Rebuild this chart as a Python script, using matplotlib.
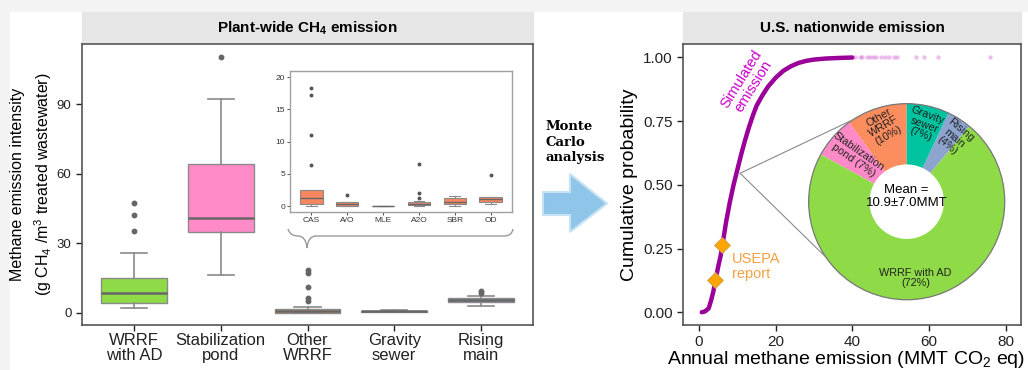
import numpy as np
import matplotlib
matplotlib.use('Agg')
import matplotlib.pyplot as plt
from matplotlib.patches import Rectangle, Polygon, PathPatch, ConnectionPatch, Circle
from matplotlib.path import Path

plt.rcParams['font.family'] = ['Liberation Sans', 'DejaVu Sans']
plt.rcParams['mathtext.fontset'] = 'custom'
plt.rcParams['mathtext.rm'] = 'Liberation Sans'
plt.rcParams['mathtext.it'] = 'Liberation Sans:italic'
plt.rcParams['mathtext.bf'] = 'Liberation Sans:bold'

W, H = 1028, 370

# ---- data: plant-wide boxplots (g CH4 / m3)
categories = ['WRRF\nwith AD', 'Stabilization\npond', 'Other\nWRRF', 'Gravity\nsewer', 'Rising\nmain']
box_colors = ['#8edb47', '#ff8ac8', '#f8875f', '#00c4a0', '#8da4cf']
whislo = [2.2, 16.3, 0.0, 0.5, 3.0]
q1 = [4.1, 34.8, 0.1, 0.6, 4.9]
med = [8.8, 41.0, 1.0, 0.8, 5.6]
q3 = [15.3, 64.4, 1.7, 1.0, 6.3]
whishi = [25.8, 92.4, 2.7, 1.1, 7.5]
fliers = [[35.4, 42.3, 47.6], [110.4], [5.2, 6.6, 11.3, 17.2, 18.4], [], [8.8, 9.5]]

# ---- data: inset (other WRRF by process)
inset_cats = ['CAS', 'A/O', 'MLE', 'A2O', 'SBR', 'OD']
in_whislo = [0.0, 0.0, 0.0, 0.0, 0.05, 0.36]
in_q1 = [0.36, 0.05, 0.0, 0.2, 0.31, 0.62]
in_med = [1.24, 0.26, 0.02, 0.36, 0.67, 1.14]
in_q3 = [2.43, 0.57, 0.04, 0.62, 1.24, 1.4]
in_whishi = [2.45, 0.6, 0.05, 0.78, 1.6, 1.45]
in_fliers = [[6.4, 11.1, 17.3, 18.35], [1.7], [], [1.3, 2.07, 6.56], [], [4.8]]

# ---- data: nationwide cumulative distribution (MMT CO2 eq)
cdf_x = [0.7, 1.5, 2.5, 3.2, 3.7, 4.3, 5.0, 5.6, 6.1, 7.0, 8.0, 9.0, 10.0, 11.0, 12.0,
         13.0, 14.0, 15.0, 16.5, 18.0, 20.0, 22.0, 24.0, 26.0, 28.0, 30.0, 33.0, 36.0, 40.0]
cdf_p = [0.0, 0.003, 0.015, 0.05, 0.08, 0.127, 0.18, 0.22, 0.264, 0.35, 0.43, 0.50, 0.56, 0.62,
         0.675, 0.725, 0.77, 0.81, 0.85, 0.885, 0.92, 0.947, 0.965, 0.978, 0.986, 0.991, 0.995,
         0.997, 0.999]
tail_x = [40.8, 41.9, 42.6, 43.8, 44.5, 45.3, 46.2, 47.4, 48.5, 49.6, 50.8, 51.7,
          56.6, 58.6, 62.3, 75.9]
tail_p = [1.0] * len(tail_x)
usepa_x = [4.2, 6.1]
usepa_p = [0.127, 0.264]

# ---- data: source shares (%)
pie_labels = ['Other\nWRRF\n(10%)', 'Stabilization\npond (7%)', 'WRRF with AD\n(72%)',
              'Rising\nmain\n(4%)', 'Gravity\nsewer\n(7%)']
pie_shares = [10, 7, 72, 4, 7]
pie_colors = ['#fc8d5f', '#ff8ac8', '#8edb47', '#8da4cf', '#00c4a0']


def px(x, y):
    return x / W, 1 - y / H


def rect(x0, y0, x1, y1):
    return [x0 / W, 1 - y1 / H, (x1 - x0) / W, (y1 - y0) / H]


fig = plt.figure(figsize=(W / 100, H / 100), dpi=100)
fig.patch.set_facecolor('#f3f3f3')
fig.add_artist(Rectangle(px(10, 370), (W - 10) / W, (370 - 12) / H,
                         transform=fig.transFigure, color='white', zorder=-10))

spine_c = '#555555'
tick_c = '#222222'

# ---------------- left panel
ax = fig.add_axes(rect(82, 44, 533, 325))
stats = []
for i in range(len(categories)):
    stats.append(dict(whislo=whislo[i], q1=q1[i], med=med[i], q3=q3[i],
                      whishi=whishi[i], fliers=fliers[i]))
bp = ax.bxp(stats, positions=np.arange(1, 6), widths=0.76, capwidths=0.3,
            patch_artist=True,
            boxprops=dict(edgecolor='#8a8a8a', linewidth=1.0),
            medianprops=dict(color='#666666', linewidth=1.8),
            whiskerprops=dict(color='#8a8a8a', linewidth=1.2),
            capprops=dict(color='#8a8a8a', linewidth=1.2),
            flierprops=dict(marker='o', markersize=3.2, markerfacecolor='#666666',
                            markeredgecolor='#666666'))
for patch, c in zip(bp['boxes'], box_colors):
    patch.set_facecolor(c)
ax.set_xlim(0.4, 5.6)
ax.set_ylim(-5.2, 116.1)
ax.set_yticks([0, 30, 60, 90])
ax.set_xticks(np.arange(1, 6))
ax.set_xticklabels(categories, fontsize=12, linespacing=0.95)
ax.tick_params(axis='y', labelsize=9.5, colors=tick_c, length=4, width=1)
ax.tick_params(axis='x', colors=tick_c, length=4, width=1, pad=2)
for s in ax.spines.values():
    s.set_color(spine_c)
    s.set_linewidth(1.2)

fig.add_artist(Rectangle(px(82, 44), (533 - 82) / W, 32 / H, transform=fig.transFigure,
                         color='#e6e6e6', zorder=-5))
fig.text(*px(307.5, 28), r'Plant-wide CH$_\mathbf{4}$ emission', fontsize=11,
         family='Liberation Sans', fontweight='bold', ha='center', va='center')
fig.text(*px(17.5, 184.5), 'Methane emission intensity', rotation=90, fontsize=11.5,
         ha='center', va='center')
fig.text(*px(43, 184.5), r'(g CH$_4$ /m$^3$ treated wastewater)', rotation=90,
         fontsize=11.5, ha='center', va='center')

# ---------------- inset
ins = fig.add_axes(rect(290, 70.7, 512, 212))
in_stats = []
for i in range(len(inset_cats)):
    in_stats.append(dict(whislo=in_whislo[i], q1=in_q1[i], med=in_med[i], q3=in_q3[i],
                         whishi=in_whishi[i], fliers=in_fliers[i]))
ibp = ins.bxp(in_stats, positions=np.arange(1, 7), widths=0.62, capwidths=0.3,
              patch_artist=True,
              boxprops=dict(edgecolor='#8a8a8a', linewidth=0.8),
              medianprops=dict(color='#666666', linewidth=1.0),
              whiskerprops=dict(color='#8a8a8a', linewidth=0.8),
              capprops=dict(color='#8a8a8a', linewidth=0.8),
              flierprops=dict(marker='o', markersize=1.8, markerfacecolor='#555555',
                              markeredgecolor='#555555'))
for patch in ibp['boxes']:
    patch.set_facecolor('#f8875f')
ins.set_xlim(0.4, 6.6)
ins.set_ylim(-0.93, 21.03)
ins.set_yticks([0, 5, 10, 15, 20])
ins.set_xticks(np.arange(1, 7))
ins.set_xticklabels(inset_cats)
ins.tick_params(labelsize=6, colors='#333333', length=2, width=0.6, pad=1.5)
for s in ins.spines.values():
    s.set_color('#a0a0a0')
    s.set_linewidth(1.0)

# brace under the inset
bx = [(288, 229), (290, 236), (298, 236), (306, 236), (307, 248), (308, 236), (316, 236),
      (504, 236), (512, 236), (513, 229)]
codes = [Path.MOVETO, Path.CURVE3, Path.CURVE3, Path.CURVE3, Path.CURVE3, Path.CURVE3,
         Path.CURVE3, Path.LINETO, Path.CURVE3, Path.CURVE3]
brace = Path([px(x, y) for x, y in bx], codes)
fig.add_artist(PathPatch(brace, transform=fig.transFigure, fill=False,
                         edgecolor='#9a9a9a', linewidth=1.0))

# ---------------- middle: Monte Carlo arrow
fig.text(*px(545, 120), 'Monte\nCarlo\nanalysis', family='DejaVu Serif',
         fontweight='bold', fontsize=9.5, ha='left', va='top', linespacing=1.25)
arrow_pts = [(543, 192), (570, 192), (570, 174), (607, 203.5), (570, 232), (570, 215),
             (543, 215)]
fig.add_artist(Polygon([px(x, y) for x, y in arrow_pts], closed=True,
                       transform=fig.transFigure, facecolor='#8ec5e9',
                       edgecolor='#c5e2f5', linewidth=1.5))

# ---------------- right panel
ax2 = fig.add_axes(rect(683, 44, 1021, 325))
ax2.plot(cdf_x, cdf_p, color='#9a0099', linewidth=3.2, solid_capstyle='round', zorder=3)
ax2.scatter(tail_x, tail_p, s=10, color='#cc44cc', alpha=0.35, linewidths=0, zorder=3)
ax2.plot(usepa_x, usepa_p, linestyle='none', marker='D', markersize=8,
         markerfacecolor='#ffa500', markeredgecolor='#c8a060', markeredgewidth=0.6, zorder=4)
ax2.set_xlim(-4.2, 84)
ax2.set_ylim(-0.05, 1.052)
ax2.set_xticks([0, 20, 40, 60, 80])
ax2.set_yticks([0, 0.25, 0.5, 0.75, 1.0])
ax2.set_yticklabels(['0.00', '0.25', '0.50', '0.75', '1.00'])
ax2.tick_params(labelsize=11, colors=tick_c, length=4, width=1)
for s in ax2.spines.values():
    s.set_color(spine_c)
    s.set_linewidth(1.2)
ax2.text(12.6, 0.9, 'Simulated\nemission', color='#cc00cc', fontsize=10.5, rotation=58,
         ha='center', va='center', linespacing=1.0)
ax2.text(8.6, 0.18, 'USEPA\nreport', color='#f5a040', fontsize=10.5, ha='left',
         va='center', linespacing=1.05)

fig.add_artist(Rectangle(px(683, 44), (1021 - 683) / W, 32 / H, transform=fig.transFigure,
                         color='#e6e6e6', zorder=-5))
fig.text(*px(852, 28), 'U.S. nationwide emission', fontsize=11, family='Liberation Sans',
         fontweight='bold', ha='center', va='center')
fig.text(*px(630, 185), 'Cumulative probability', rotation=90, fontsize=14,
         ha='center', va='center')
fig.text(*px(846, 359), r'Annual methane emission (MMT CO$_2$ eq)', fontsize=14,
         ha='center', va='center')

# ---------------- donut
axp = fig.add_axes(rect(806.7, 101.7, 1006.7, 301.7))
axp.pie(pie_shares, colors=pie_colors, startangle=90, counterclock=True, radius=1.0,
        wedgeprops=dict(width=0.62, edgecolor='none'))
axp.add_patch(Circle((0, 0), 1.0, fill=False, edgecolor='#777777', linewidth=0.9))
axp.set_xlim(-1.02, 1.02)
axp.set_ylim(-1.02, 1.02)
axp.set_aspect('equal')
axp.axis('off')
lab_pos = [(-0.233, 0.767), (-0.517, 0.467), (0.09, -0.777), (0.483, 0.65), (0.183, 0.783)]
lab_rot = [30, -35, 0, -40, -20]
for lab, (lx, ly), r in zip(pie_labels, lab_pos, lab_rot):
    axp.text(lx, ly, lab, fontsize=7.8, rotation=r, ha='center', va='center',
             linespacing=1.0, rotation_mode='anchor', color='#222222')
axp.text(0, 0.05, 'Mean =\n10.9±7.0MMT', fontsize=9.5, ha='center', va='center',
         linespacing=1.15)

for ang in [123.2, 214.4]:
    a = np.deg2rad(ang)
    con = ConnectionPatch(xyA=(10.7, 0.545), coordsA=ax2.transData,
                          xyB=(np.cos(a), np.sin(a)), coordsB=axp.transData,
                          color='#8a8a8a', linewidth=0.8)
    fig.add_artist(con)

fig.savefig('out.png', dpi=100, facecolor=fig.get_facecolor())
